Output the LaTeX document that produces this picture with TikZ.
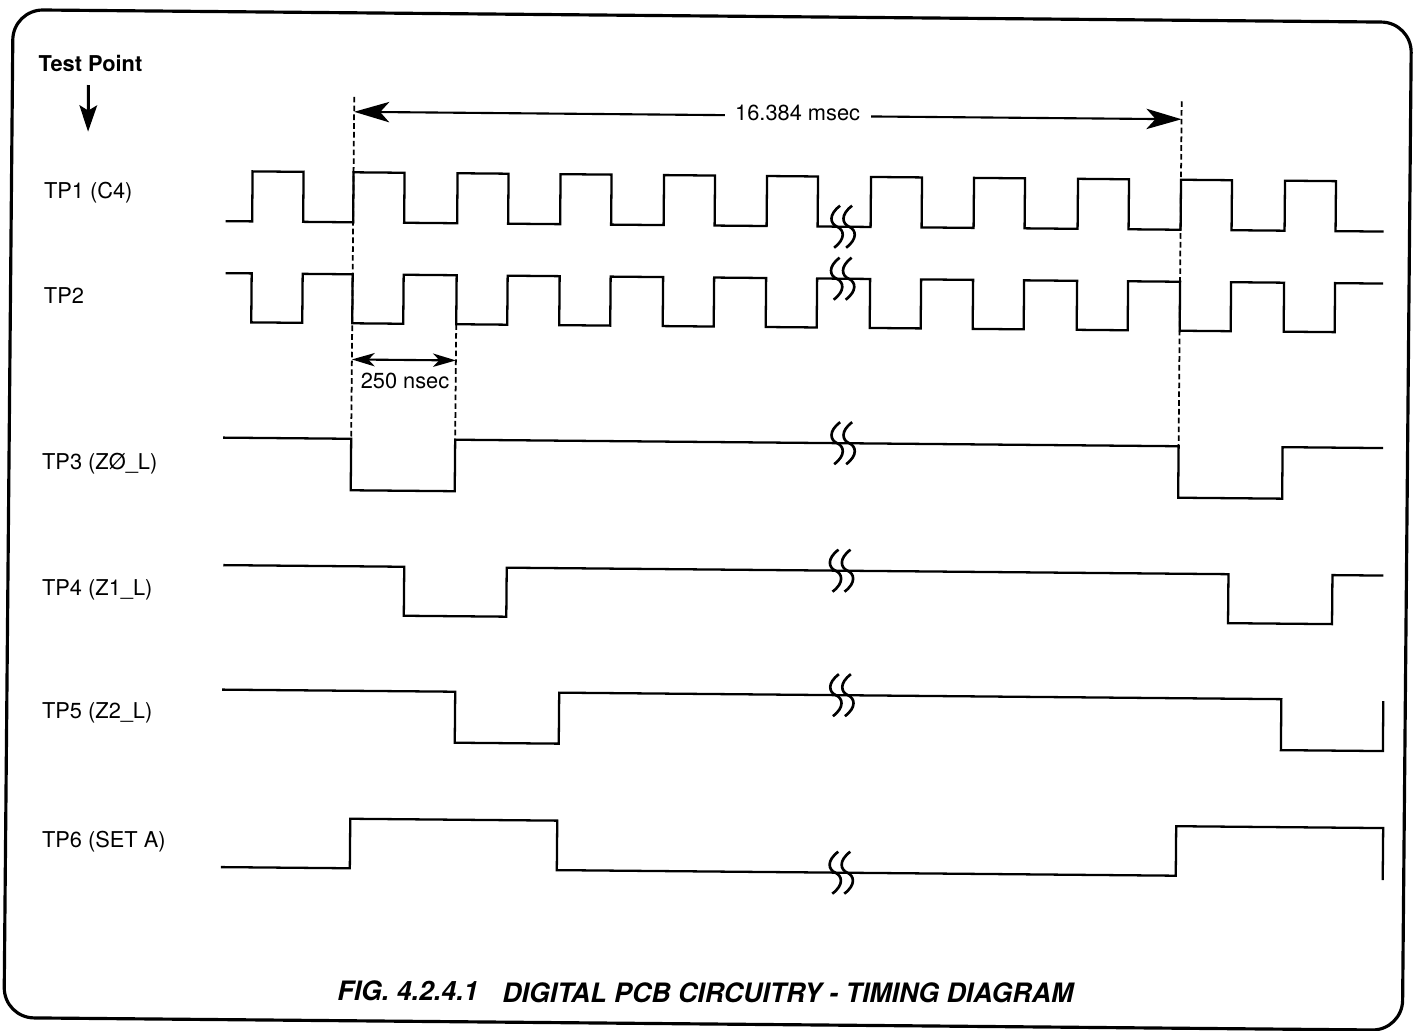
\documentclass[tikz,border=0pt]{standalone}
\usepackage{fontspec}
\setmainfont{TeX Gyre Heros}
\usetikzlibrary{arrows.meta}
\begin{document}
\begin{tikzpicture}[x=0.01cm,y=-0.01cm,
  sig/.style={line width=0.65pt, line join=miter},
  guide/.style={line width=0.5pt, dash pattern=on 1.6pt off 0.9pt},
  frame/.style={line width=0.9pt, rounded corners=0.3cm},
  lbl/.style={font=\fontsize{6.2pt}{7.4pt}\selectfont, inner sep=0pt, anchor=west},
  dimlbl/.style={font=\fontsize{6.2pt}{7.4pt}\selectfont, inner sep=0pt},
  caplbl/.style={font=\fontsize{7.6pt}{9pt}\selectfont\bfseries\itshape, inner sep=0pt, anchor=west},
  bigdim/.style={line width=0.6pt, {Stealth[length=10pt,width=5.8pt,inset=2.6pt]}-{Stealth[length=10pt,width=5.8pt,inset=2.6pt]}},
  smalldim/.style={line width=0.6pt, {Stealth[length=6.5pt,width=3.8pt,inset=1.8pt]}-{Stealth[length=6.5pt,width=3.8pt,inset=1.8pt]}},
  downarrow/.style={line width=0.85pt, -{Stealth[length=7.5pt,width=5pt,inset=1.5pt]}},
  brk/.pic={
    \foreach \dx in {-6,6}{
      \draw[sig, line width=0.75pt] (\dx+3,-21) .. controls (\dx-9,-12) and (\dx-7,-3) .. (\dx,0)
                 .. controls (\dx+7,3) and (\dx+9,12) .. (\dx-3,21);
    }
  }]
\fill[white] (0,0) rectangle (1421,1030);
\useasboundingbox (0,0) rectangle (1421,1030);
\begin{scope}[rotate around={-0.516:(710,515)}]
% frame
\draw[frame] (700,1024) -- (8.5,1024) -- (8.5,16) -- (1407,16) -- (1407,1024) -- cycle;

% labels
\node[lbl, font=\fontsize{6.2pt}{7.4pt}\selectfont\bfseries, anchor=center] (tp) at (86.4,69) {Test Point};
\coordinate (tpa) at (84.6,90.6);
\coordinate (tpb) at (84.6,137.3);
\draw[downarrow] (tpa) -- (tpb);

\node[lbl] (l1) at (40.4,199) {TP1 (C4)};
\node[lbl] (l2) at (41.3,301.5) {TP2};
\node[lbl] (l3) at (41,469.3) {TP3 (ZØ\_L)};
\node[lbl] (l4) at (42.1,596) {TP4 (Z1\_L)};
\node[lbl] (l5) at (43.2,719.3) {TP5 (Z2\_L)};
\node[lbl] (l6) at (44.3,847.7) {TP6 (SET A)};

% guide lines
\coordinate (g1t) at (350.5,100);  \coordinate (g1b) at (350.5,442);
\coordinate (g2t) at (454.5,326.5); \coordinate (g2b) at (454.5,442);
\coordinate (g3t) at (1178,97);    \coordinate (g3b) at (1178,442);
\draw[guide] (g1t) -- (g1b);
\draw[guide] (g2t) -- (g2b);
\draw[guide] (g3t) -- (g3b);

% dimension 16.384 msec
\coordinate (m1) at (350.5,115);
\coordinate (m2) at (1178,115);
\draw[bigdim] (m1) -- (m2);
\node[dimlbl, fill=white, inner xsep=3pt, inner ysep=1pt] (ms) at (794,112) {16.384 msec};

% dimension 250 nsec
\coordinate (n1) at (350.5,362.7);
\coordinate (n2) at (454.5,362.7);
\draw[smalldim] (n1) -- (n2);
\node[dimlbl] (ns) at (403.8,383.3) {250 nsec};

% TP1
\draw[sig] (223,225.5)
  foreach \xa in {249.5,350.5,454.5,557.5,661,764,868,971,1075,1178,1282}
  { -- (\xa,225.5) -- (\xa,175.5) -- ({\xa+51},175.5) -- ({\xa+51},225.5) }
  -- (1381,225.5);
% TP2
\draw[sig] (223.5,277.5)
  foreach \xa in {249.5,350.5,454.5,557.5,661,764,868,971,1075,1178,1282}
  { -- (\xa,277.5) -- (\xa,326.5) -- ({\xa+51},326.5) -- ({\xa+51},277.5) }
  -- (1381,277.5);
% TP3
\draw[sig] (222.5,442) -- (350.5,442) -- (350.5,493.5) -- (454.5,493.5) -- (454.5,442)
  -- (1178,442) -- (1178,493.5) -- (1282,493.5) -- (1282,442) -- (1382.5,442);
% TP4
\draw[sig] (223.7,569.5) -- (404.7,569.5) -- (404.7,618.5) -- (507.2,618.5) -- (507.2,569.5)
  -- (1229,569.5) -- (1229,618.5) -- (1333,618.5) -- (1333,569.5) -- (1384,569.5);
% TP5
\draw[sig] (223.8,694) -- (456.8,694) -- (456.8,745) -- (560.8,745) -- (560.8,694)
  -- (1283,694) -- (1283,745) -- (1385,745) -- (1385,695);
% TP6
\draw[sig] (224,871.5) -- (353,871.5) -- (353,822) -- (560,822) -- (560,871.5)
  -- (1179,871.5) -- (1179,822) -- (1386,822) -- (1386,874);

% breaks
\pic (k1) at (840.5,225.5) {brk};
\pic (k2) at (840.5,277.5) {brk};
\pic (k3) at (842.5,442) {brk};
\pic (k4) at (842,569.5) {brk};
\pic (k5) at (843.5,694) {brk};
\pic (k6) at (844.5,871.5) {brk};

% caption
\node[caplbl] (c1) at (341,994.3) {FIG. 4.2.4.1};
\node[caplbl] (c2) at (506,994.7) {DIGITAL PCB CIRCUITRY - TIMING DIAGRAM};
\end{scope}
\end{tikzpicture}
\end{document}
